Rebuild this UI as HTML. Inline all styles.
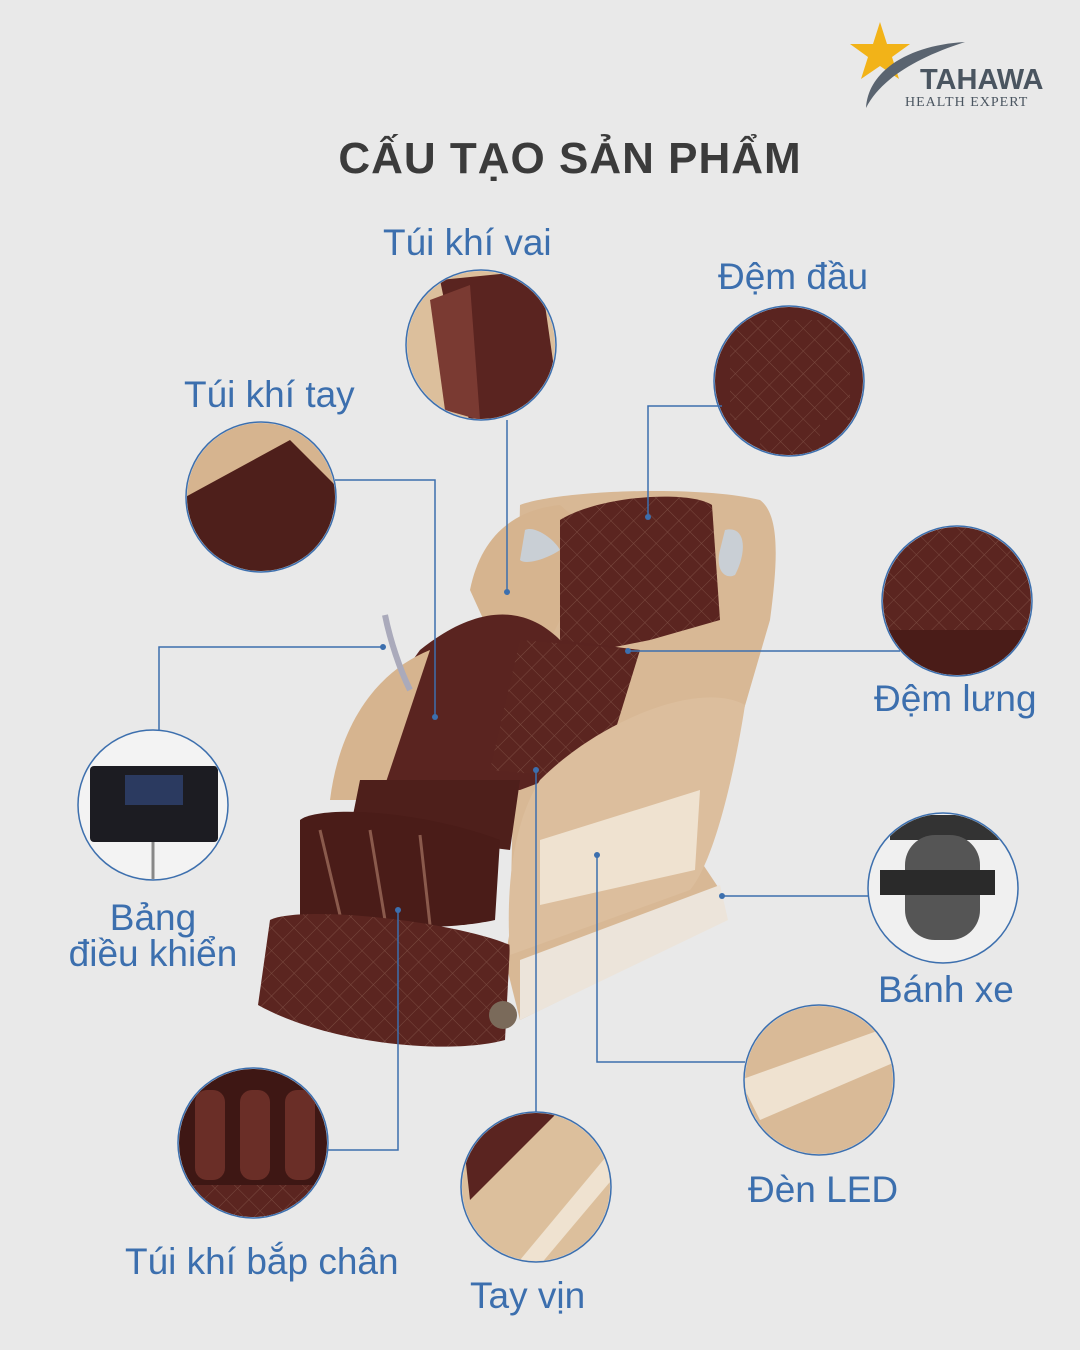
<!DOCTYPE html>
<html><head><meta charset="utf-8">
<style>
html,body{margin:0;padding:0;}
body{width:1080px;height:1350px;background:#e9e9e9;position:relative;overflow:hidden;font-family:"Liberation Sans",sans-serif;}
.t{position:absolute;color:#3c6fae;font-size:37px;white-space:nowrap;line-height:1;}
#title{position:absolute;left:0;width:1140px;text-align:center;top:134px;font-size:44px;font-weight:bold;color:#3b3b3b;letter-spacing:1px;}
svg{position:absolute;left:0;top:0;}
</style></head><body>
<svg width="1080" height="1350" viewBox="0 0 1080 1350">
<defs>
<pattern id="q" width="16" height="16" patternUnits="userSpaceOnUse" patternTransform="rotate(45)">
<rect width="16" height="16" fill="#5b2520"/><path d="M0 0H16M0 0V16" stroke="#7a4a40" stroke-width="1"/></pattern>
<clipPath id="c1"><circle cx="481" cy="345" r="74"/></clipPath>
<clipPath id="c2"><circle cx="789" cy="381" r="74"/></clipPath>
<clipPath id="c3"><circle cx="261" cy="497" r="74"/></clipPath>
<clipPath id="c4"><circle cx="957" cy="601" r="74"/></clipPath>
<clipPath id="c5"><circle cx="153" cy="805" r="74"/></clipPath>
<clipPath id="c6"><circle cx="943" cy="888" r="74"/></clipPath>
<clipPath id="c7"><circle cx="819" cy="1080" r="74"/></clipPath>
<clipPath id="c8"><circle cx="253" cy="1143" r="74"/></clipPath>
<clipPath id="c9"><circle cx="536" cy="1187" r="74"/></clipPath>
</defs>
<!-- logo -->
<polygon points="880,22 887,44 910,44 892,57 899,79 880,66 861,79 868,57 850,44 873,44" fill="#f2b318"/>
<path d="M965,42 C910,45 868,70 866,108 C880,80 915,58 965,42Z" fill="#5a6470"/>
<text x="920" y="89" font-family="Liberation Sans" font-weight="bold" font-size="29" fill="#4a5560">TAHAWA</text>
<text x="905" y="106" font-family="Liberation Serif" font-size="14" fill="#4a5560" letter-spacing="1">HEALTH EXPERT</text>

<!-- chair -->
<g>
<path d="M520,505 C560,490 700,485 760,500 C780,515 778,560 770,620 L700,860 L720,890 L725,920 L520,1020 L505,960 L510,930 Z" fill="#d8b895"/>
<path d="M470,590 C480,540 510,510 560,505 L600,540 L520,700 Z" fill="#d6b48f"/>
<path d="M560,520 C600,495 690,490 712,505 L720,620 L650,640 L600,650 L560,640 Z" fill="url(#q)"/>
<path d="M420,650 C470,610 520,600 560,640 L640,650 L600,760 L520,790 L380,790 C370,740 390,690 420,650Z" fill="#5a2420"/>
<path d="M520,640 L640,650 L600,780 L490,770 Z" fill="url(#q)"/>
<path d="M330,800 C340,720 380,670 430,650 L380,800 Z" fill="#d6b48f"/>
<path d="M360,780 L520,780 L510,850 L350,830 Z" fill="#4e1f1b"/>
<path d="M300,820 C320,805 420,810 500,840 L495,920 C450,930 380,930 300,915 Z" fill="#4a1c18"/>
<path d="M320,830 L340,915 M370,830 L385,920 M420,835 L430,925" stroke="#8a5a4c" stroke-width="3"/>
<path d="M270,920 C300,905 450,920 510,945 L505,1040 C450,1055 330,1045 258,1005 Z" fill="url(#q)"/>
<path d="M540,780 C600,720 700,680 745,705 C735,770 715,860 690,890 L510,955 C505,880 515,820 540,780Z" fill="#dcbe9d"/>
<path d="M540,840 L700,790 L695,870 L540,905 Z" fill="#efe2d0"/>
<path d="M520,960 L720,885 L728,920 L520,1020 Z" fill="#ece4da"/>
<circle cx="503" cy="1015" r="14" fill="#7a6a5a"/>
<path d="M525,530 C535,525 555,540 560,550 C545,560 525,565 520,560Z" fill="#c9cfd5"/>
<path d="M725,530 C745,525 748,550 735,575 C725,580 715,570 720,550Z" fill="#c9cfd5"/>
<path d="M385,615 C390,640 400,670 410,690" stroke="#aab" stroke-width="6" fill="none"/>
</g>

<!-- circles -->
<g stroke="#3c6fae" stroke-width="1.5">
<g clip-path="url(#c1)"><rect x="400" y="265" width="160" height="160" fill="#dcbf9c" stroke="none"/><path d="M440,280 L540,270 L560,410 L470,425 Z" fill="#5a2420" stroke="none"/><path d="M430,300 L470,285 L480,420 L445,410Z" fill="#7a3a32" stroke="none"/></g>
<circle cx="481" cy="345" r="75" fill="none"/>
<g clip-path="url(#c2)"><rect x="710" y="300" width="160" height="160" fill="#5a2420" stroke="none"/><rect x="730" y="320" width="120" height="100" fill="url(#q)" stroke="none"/><rect x="760" y="420" width="60" height="40" fill="url(#q)" stroke="none"/></g>
<circle cx="789" cy="381" r="75" fill="none"/>
<g clip-path="url(#c3)"><rect x="180" y="420" width="160" height="160" fill="#d6b48f" stroke="none"/><path d="M180,500 L290,440 L340,490 L340,580 L180,580Z" fill="#4e1f1b" stroke="none"/></g>
<circle cx="261" cy="497" r="75" fill="none"/>
<g clip-path="url(#c4)"><rect x="880" y="525" width="160" height="160" fill="url(#q)" stroke="none"/><rect x="880" y="630" width="160" height="50" fill="#4a1c18" stroke="none"/></g>
<circle cx="957" cy="601" r="75" fill="none"/>
<g clip-path="url(#c5)"><rect x="75" y="725" width="160" height="160" fill="#f3f3f3" stroke="none"/><rect x="90" y="766" width="128" height="76" rx="4" fill="#1c1c22" stroke="none"/><rect x="125" y="775" width="58" height="30" fill="#2b3a60" stroke="none"/><line x1="153" y1="842" x2="153" y2="880" stroke="#888" stroke-width="3"/></g>
<circle cx="153" cy="805" r="75" fill="none"/>
<g clip-path="url(#c6)"><rect x="865" y="810" width="160" height="160" fill="#f0f0f0" stroke="none"/><rect x="890" y="815" width="110" height="25" fill="#333" stroke="none"/><rect x="905" y="835" width="75" height="105" rx="30" fill="#555" stroke="none"/><rect x="880" y="870" width="115" height="25" fill="#2a2a2a" stroke="none"/></g>
<circle cx="943" cy="888" r="75" fill="none"/>
<g clip-path="url(#c7)"><rect x="740" y="1000" width="160" height="160" fill="#d9ba97" stroke="none"/><path d="M740,1080 L880,1030 L900,1060 L760,1120Z" fill="#efe2d0" stroke="none"/></g>
<circle cx="819" cy="1080" r="75" fill="none"/>
<g clip-path="url(#c8)"><rect x="175" y="1065" width="160" height="160" fill="#3e1714" stroke="none"/><rect x="195" y="1090" width="30" height="90" rx="12" fill="#6a2e27" stroke="none"/><rect x="240" y="1090" width="30" height="90" rx="12" fill="#6a2e27" stroke="none"/><rect x="285" y="1090" width="30" height="90" rx="12" fill="#6a2e27" stroke="none"/><rect x="175" y="1185" width="160" height="40" fill="url(#q)" stroke="none"/></g>
<circle cx="253" cy="1143" r="75" fill="none"/>
<g clip-path="url(#c9)"><rect x="460" y="1110" width="160" height="160" fill="#dcbf9c" stroke="none"/><path d="M460,1110 L560,1110 L470,1200Z" fill="#5a2420" stroke="none"/><path d="M520,1260 L620,1140 L620,1170 L540,1265Z" fill="#efe2d0" stroke="none"/></g>
<circle cx="536" cy="1187" r="75" fill="none"/>
</g>

<!-- connectors -->
<g stroke="#3c6fae" stroke-width="1.5" fill="none">
<path d="M507,420 V592"/>
<path d="M722,406 H648 V517"/>
<path d="M335,480 H435 V717"/>
<path d="M628,651 H900"/>
<path d="M159,730 V647 H383"/>
<path d="M722,896 H868"/>
<path d="M597,855 V1062 H745"/>
<path d="M328,1150 H398 V910"/>
<path d="M536,770 V1112"/>
</g>
<g fill="#3c6fae">
<circle cx="507" cy="592" r="3"/><circle cx="648" cy="517" r="3"/><circle cx="435" cy="717" r="3"/>
<circle cx="628" cy="651" r="3"/><circle cx="383" cy="647" r="3"/><circle cx="722" cy="896" r="3"/>
<circle cx="597" cy="855" r="3"/><circle cx="398" cy="910" r="3"/><circle cx="536" cy="770" r="3"/>
</g>
</svg>
<div id="title">CẤU TẠO SẢN PHẨM</div>
<div class="t" style="left:383px;top:224px;">Túi khí vai</div>
<div class="t" style="left:718px;top:258px;">Đệm đầu</div>
<div class="t" style="left:184px;top:376px;">Túi khí tay</div>
<div class="t" style="left:874px;top:680px;">Đệm lưng</div>
<div class="t" style="left:60px;top:900px;width:186px;text-align:center;line-height:36px;">Bảng<br>điều khiển</div>
<div class="t" style="left:878px;top:971px;">Bánh xe</div>
<div class="t" style="left:748px;top:1171px;">Đèn LED</div>
<div class="t" style="left:125px;top:1243px;">Túi khí bắp chân</div>
<div class="t" style="left:470px;top:1277px;">Tay vịn</div>
</body></html>
